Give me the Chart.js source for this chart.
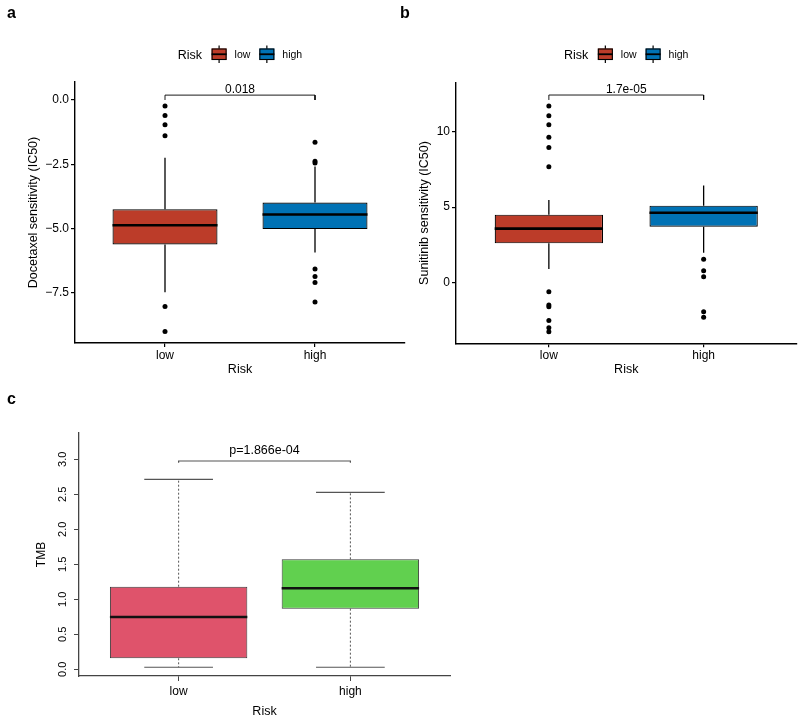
<!DOCTYPE html>
<html>
<head>
<meta charset="utf-8">
<script src="https://cdn.jsdelivr.net/npm/chart.js@4.4.0/dist/chart.umd.min.js"></script>
<style>
html,body{margin:0;padding:0;background:#fff;width:800px;height:719px;overflow:hidden;font-family:"Liberation Sans",Arial,sans-serif;}
canvas{position:absolute;}
.lab{position:absolute;font-weight:bold;font-size:16px;line-height:16px;color:#000;}
</style>
</head>
<body>
<canvas id="ca" width="410" height="380" style="left:0;top:0;width:410px;height:380px"></canvas>
<canvas id="cb" width="400" height="380" style="left:400px;top:0;width:400px;height:380px"></canvas>
<canvas id="cc" width="470" height="339" style="left:0;top:380px;width:470px;height:339px"></canvas>
<div class="lab" style="left:7px;top:5px">a</div>
<div class="lab" style="left:400px;top:5px">b</div>
<div class="lab" style="left:7px;top:391px">c</div>
<script>
// ---------------- data ----------------
const categories = ['low', 'high'];
const catPos = [1, 2];

// panel a: Docetaxel
const docQ1 = [-5.62, -5.02];
const docMedian = [-4.87, -4.45];
const docQ3 = [-4.25, -3.99];
const docWhiskerMin = [-7.48, -5.93];
const docWhiskerMax = [-2.25, -2.59];
const docOutliersLowRisk = [-0.23, -0.60, -0.96, -1.39, -8.03, -9.00];
const docOutliersHighRisk = [-1.64, -2.38, -2.45, -6.57, -6.86, -7.10, -7.86];
const docTicks = [0, -2.5, -5, -7.5];
const docBracket = [0.0, 0.19];
const docPValue = '0.018';

// panel b: Sunitinib
const sunQ1 = [2.59, 3.70];
const sunMedian = [3.57, 4.63];
const sunQ3 = [4.50, 5.10];
const sunWhiskerMin = [0.88, 1.97];
const sunWhiskerMax = [5.48, 6.44];
const sunOutliersLowRisk = [11.73, 11.08, 10.49, 9.65, 8.96, 7.69, -0.63, -1.51, -1.62, -2.55, -3.02, -3.29];
const sunOutliersHighRisk = [1.53, 0.77, 0.37, -1.96, -2.33];
const sunTicks = [0, 5, 10];
const sunBracket = [12.13, 12.46];
const sunPValue = '1.7e-05';

// panel c: TMB
const tmbQ1 = [0.157, 0.866];
const tmbMedian = [0.747, 1.157];
const tmbQ3 = [1.18, 1.571];
const tmbWhiskerMin = [0.029, 0.029];
const tmbWhiskerMax = [2.714, 2.529];
const tmbTicks = [0, 0.5, 1, 1.5, 2, 2.5, 3];
const tmbBracket = [2.95, 2.976];
const tmbPValue = 'p=1.866e-04';

// ---------------- styling ----------------
const FONT = '"Liberation Sans", Arial, sans-serif';
Chart.defaults.font.family = FONT;
Chart.defaults.color = '#000';

function lineDs(data, color, width, dash, order) {
  return { type: 'line', data, borderColor: color, borderWidth: width, borderDash: dash || [],
           pointRadius: 0, pointHoverRadius: 0, fill: false, tension: 0, showLine: true, order };
}

function boxDatasets(s, st) {
  const ds = [];
  ds.push({ type: 'bar', order: 2,
    data: catPos.map((x, i) => ({ x, y: [s.q1[i], s.q3[i]] })),
    backgroundColor: st.fill, borderColor: st.boxLine, borderWidth: st.boxLW,
    borderSkipped: false, barPercentage: st.boxWidth, categoryPercentage: 1 });
  catPos.forEach((x, i) => {
    ds.push(lineDs([{ x, y: s.q3[i] }, { x, y: s.wmax[i] }], st.whiskerColor, st.whiskerLW, st.whiskerDash, 3));
    ds.push(lineDs([{ x, y: s.q1[i] }, { x, y: s.wmin[i] }], st.whiskerColor, st.whiskerLW, st.whiskerDash, 3));
    if (st.staple) {
      ds.push(lineDs([{ x: x - st.staple, y: s.wmax[i] }, { x: x + st.staple, y: s.wmax[i] }], st.stapleColor, st.stapleLW, [], 3));
      ds.push(lineDs([{ x: x - st.staple, y: s.wmin[i] }, { x: x + st.staple, y: s.wmin[i] }], st.stapleColor, st.stapleLW, [], 3));
    }
    ds.push(lineDs([{ x: x - st.boxWidth / 2, y: s.med[i] }, { x: x + st.boxWidth / 2, y: s.med[i] }], st.medColor, st.medLW, [], 0));
    if (s.outliers) {
      ds.push({ type: 'scatter', order: 0, data: s.outliers[i].map(v => ({ x, y: v })),
                pointRadius: 2.5, pointHoverRadius: 2.5, backgroundColor: '#000', borderWidth: 0 });
    }
  });
  const [b0, b1] = s.bracket;
  ds.push(lineDs([{ x: catPos[0], y: b0 }, { x: catPos[0], y: b1 }, { x: catPos[1], y: b1 }, { x: catPos[1], y: b0 }],
                 st.bracketColor, st.bracketLW, [], 0));
  return ds;
}

const pLabel = {
  id: 'pLabel',
  afterDatasetsDraw(chart, args, o) {
    const { ctx, scales: { x, y } } = chart;
    ctx.save();
    ctx.font = o.size + 'px ' + FONT;
    ctx.fillStyle = '#000';
    ctx.textAlign = 'center';
    ctx.textBaseline = 'alphabetic';
    const px = (x.getPixelForValue(catPos[0]) + x.getPixelForValue(catPos[1])) / 2;
    ctx.fillText(o.text, px, y.getPixelForValue(o.at) - o.gap);
    ctx.restore();
  }
};

const ggLegend = {
  id: 'ggLegend',
  afterDraw(chart, args, o) {
    if (!o || !o.show) return;
    const ctx = chart.ctx, ca = chart.chartArea;
    ctx.save();
    const tFont = '12.5px ' + FONT, iFont = '10.5px ' + FONT;
    ctx.font = tFont;
    const tw = ctx.measureText(o.title).width;
    ctx.font = iFont;
    const iw = o.labels.map(t => ctx.measureText(t).width);
    const KEY = 15, GK = [9.5, 9], GT = 8;
    let total = tw;
    iw.forEach((w, i) => total += GK[i] + KEY + GT + w);
    let x = (ca.left + ca.right) / 2 - total / 2;
    const yB = o.baseline;
    ctx.textAlign = 'left'; ctx.textBaseline = 'alphabetic';
    ctx.fillStyle = '#000'; ctx.font = tFont;
    ctx.fillText(o.title, x, yB);
    x += tw;
    o.labels.forEach((t, i) => {
      x += GK[i];
      const top = yB - 10.5, h = 11.5, cx = x + KEY / 2;
      ctx.strokeStyle = '#000'; ctx.lineWidth = 1.2;
      ctx.beginPath(); ctx.moveTo(cx, top - 3); ctx.lineTo(cx, top + h + 3); ctx.stroke();
      ctx.fillStyle = o.colors[i];
      ctx.fillRect(x, top, KEY, h);
      ctx.lineWidth = 1.1;
      ctx.strokeRect(x + 0.5, top + 0.5, KEY - 1, h - 1);
      ctx.lineWidth = 1.8;
      ctx.beginPath(); ctx.moveTo(x, top + h / 2); ctx.lineTo(x + KEY, top + h / 2); ctx.stroke();
      x += KEY + GT;
      ctx.fillStyle = '#000'; ctx.font = iFont;
      ctx.fillText(t, x, yB - 0.7);
      x += iw[i];
    });
    ctx.restore();
  }
};

const ggStyle = { fill: ['#BC3C29', '#0072B5'], boxLine: '#000', boxLW: 1.2, boxWidth: 0.7,
  whiskerColor: '#000', whiskerLW: 1.3, whiskerDash: [], staple: 0,
  medColor: '#000', medLW: 2.6, bracketColor: '#000', bracketLW: 0.9 };

function ggOptions(o) {
  return {
    responsive: false, maintainAspectRatio: false, animation: false, events: [], devicePixelRatio: 1,
    layout: { padding: { left: 0, right: o.padRight, top: o.padTop, bottom: 0 } },
    plugins: {
      legend: { display: false }, tooltip: { enabled: false },
      ggLegend: { show: true, title: 'Risk', labels: categories, colors: ggStyle.fill, baseline: 59 },
      pLabel: { text: o.pText, at: o.pAt, gap: 2.5, size: 12 }
    },
    scales: {
      x: {
        type: 'linear', min: 0.4, max: 2.6, offset: false,
        afterBuildTicks: s => { s.ticks = catPos.map(v => ({ value: v })); },
        afterFit: s => { s.height = o.xHeight; },
        grid: { display: true, drawOnChartArea: false, drawTicks: true, tickLength: 4, color: '#000', lineWidth: 1.2, offset: false },
        border: { display: true, color: '#000', width: 1.4 },
        ticks: { padding: 1, color: '#000', font: { size: 12 }, maxRotation: 0, autoSkip: false, callback: (v, i) => categories[i] },
        title: { display: true, text: 'Risk', color: '#000', font: { size: 12.5 }, padding: { top: 0, bottom: 2.9 } }
      },
      y: {
        type: 'linear', min: o.yMin, max: o.yMax, beginAtZero: false,
        afterBuildTicks: s => { s.ticks = o.ticks.map(v => ({ value: v })); },
        afterFit: s => { s.width = o.yWidth; },
        grid: { display: true, drawOnChartArea: false, drawTicks: true, tickLength: 4, color: '#000', lineWidth: 1.2 },
        border: { display: true, color: '#000', width: 1.4 },
        ticks: { padding: 2, color: '#000', font: { size: 12 }, autoSkip: false, callback: o.fmt },
        title: { display: true, text: o.yTitle, color: '#000', font: { size: 12.5 }, padding: { top: o.yTitlePad, bottom: 0 } }
      }
    }
  };
}

const minus = s => s.replace('-', '\u2212');

// panel a
new Chart(document.getElementById('ca'), {
  type: 'scatter',
  data: { datasets: boxDatasets({ q1: docQ1, med: docMedian, q3: docQ3, wmin: docWhiskerMin, wmax: docWhiskerMax,
    outliers: [docOutliersLowRisk, docOutliersHighRisk], bracket: docBracket }, ggStyle) },
  options: ggOptions({ padRight: 5, padTop: 82, xHeight: 37, yWidth: 75, yMin: -9.45, yMax: 0.70,
    ticks: docTicks, fmt: v => minus(Number(v).toFixed(1)), yTitle: 'Docetaxel sensitivity (IC50)', yTitlePad: 26.5,
    pText: docPValue, pAt: docBracket[1] }),
  plugins: [ggLegend, pLabel]
});

// panel b
new Chart(document.getElementById('cb'), {
  type: 'scatter',
  data: { datasets: boxDatasets({ q1: sunQ1, med: sunMedian, q3: sunQ3, wmin: sunWhiskerMin, wmax: sunWhiskerMax,
    outliers: [sunOutliersLowRisk, sunOutliersHighRisk], bracket: sunBracket }, ggStyle) },
  options: ggOptions({ padRight: 3.5, padTop: 82.7, xHeight: 36.7, yWidth: 56, yMin: -4.06, yMax: 13.28,
    ticks: sunTicks, fmt: v => minus(String(v)), yTitle: 'Sunitinib sensitivity (IC50)', yTitlePad: 17.5,
    pText: sunPValue, pAt: sunBracket[1] }),
  plugins: [ggLegend, pLabel]
});

// panel c
const baseStyle = { fill: ['#DF536B', '#61D04F'], boxLine: '#3a3a3a', boxLW: 1, boxWidth: 0.8,
  whiskerColor: '#555', whiskerLW: 1, whiskerDash: [2, 2], staple: 0.2, stapleColor: '#555', stapleLW: 1.2,
  medColor: '#111', medLW: 2.6, bracketColor: '#555', bracketLW: 1.2 };

new Chart(document.getElementById('cc'), {
  type: 'scatter',
  data: { datasets: boxDatasets({ q1: tmbQ1, med: tmbMedian, q3: tmbQ3, wmin: tmbWhiskerMin, wmax: tmbWhiskerMax,
    outliers: null, bracket: tmbBracket }, baseStyle) },
  options: {
    responsive: false, maintainAspectRatio: false, animation: false, events: [], devicePixelRatio: 1,
    layout: { padding: { left: 0, right: 20, top: 53, bottom: 0 } },
    plugins: { legend: { display: false }, tooltip: { enabled: false },
      pLabel: { text: tmbPValue, at: tmbBracket[1], gap: 6.5, size: 12.5 } },
    scales: {
      x: {
        type: 'linear', min: 0.42, max: 2.58, offset: false,
        afterBuildTicks: s => { s.ticks = catPos.map(v => ({ value: v })); },
        afterFit: s => { s.height = 43; },
        grid: { display: true, drawOnChartArea: false, drawTicks: true, tickLength: 5, color: '#444', lineWidth: 1, offset: false },
        border: { display: true, color: '#444', width: 1.3 },
        ticks: { padding: 3, color: '#000', font: { size: 12 }, maxRotation: 0, autoSkip: false, callback: (v, i) => categories[i] },
        title: { display: true, text: 'Risk', color: '#000', font: { size: 12.5 }, padding: { top: 0, bottom: 0.3 } }
      },
      y: {
        type: 'linear', min: -0.096, max: 3.376, beginAtZero: false,
        afterBuildTicks: s => { s.ticks = tmbTicks.map(v => ({ value: v })); },
        afterFit: s => { s.width = 79; },
        grid: { display: true, drawOnChartArea: false, drawTicks: true, tickLength: 5, color: '#444', lineWidth: 1 },
        border: { display: true, color: '#444', width: 1.3 },
        ticks: { padding: 3, color: '#000', font: { size: 11 }, autoSkip: false, minRotation: 90, maxRotation: 90,
                 crossAlign: 'center', callback: v => Number(v).toFixed(1) },
        title: { display: true, text: 'TMB', color: '#000', font: { size: 12 }, padding: { top: 34.5, bottom: 0 } }
      }
    }
  },
  plugins: [pLabel]
});
</script>
</body>
</html>
